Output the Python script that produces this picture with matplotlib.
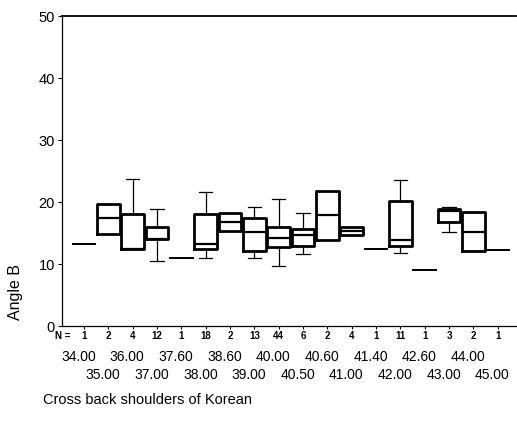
import matplotlib
matplotlib.use("Agg")
import matplotlib.pyplot as plt

plt.rcParams['font.family'] = ['Liberation Sans', 'DejaVu Sans']

categories = ["34.00", "35.00", "36.00", "37.00", "37.60", "38.00", "38.60", "39.00", "40.00",
              "40.50", "40.60", "41.00", "41.40", "42.00", "42.60", "43.00", "44.00", "45.00"]
n_counts = [1, 2, 4, 12, 1, 18, 2, 13, 44, 6, 2, 4, 1, 11, 1, 3, 2, 1]
q1 =      [13.2, 14.9, 12.4, 14.0, 11.0, 12.5, 15.3, 12.1, 12.8, 12.9, 13.9, 14.6, 12.5, 12.9, 9.1, 16.8, 12.1, 12.3]
median =  [13.2, 17.4, 12.5, 14.1, 11.0, 13.2, 16.8, 15.2, 14.2, 14.7, 17.9, 15.3, 12.5, 13.9, 9.1, 18.5, 15.2, 12.3]
q3 =      [13.2, 19.7, 18.1, 16.0, 11.0, 18.1, 18.2, 17.5, 16.0, 15.6, 21.8, 15.9, 12.5, 20.2, 9.1, 18.9, 18.4, 12.3]
whislo =  [13.2, 14.9, 12.4, 10.5, 11.0, 10.9, 15.3, 10.9, 9.7, 11.6, 13.9, 14.6, 12.5, 11.7, 9.1, 15.1, 12.1, 12.3]
whishi =  [13.2, 19.7, 23.7, 18.8, 11.0, 21.6, 18.2, 19.2, 20.5, 18.2, 21.8, 15.9, 12.5, 23.5, 9.1, 19.2, 18.4, 12.3]
yticks = [0, 10, 20, 30, 40, 50]

fig = plt.figure(figsize=(5.17, 4.28), dpi=100)
ax = fig.add_axes([0.120, 0.2383, 0.878, 0.7243])

positions = list(range(1, len(categories) + 1))
stats = []
for i in range(len(categories)):
    stats.append(dict(med=median[i], q1=q1[i], q3=q3[i], whislo=whislo[i], whishi=whishi[i], fliers=[]))

res = ax.bxp(stats, positions=positions, widths=0.94, showfliers=False, patch_artist=False,
             boxprops=dict(color='black', linewidth=2.0),
             medianprops=dict(color='black', linewidth=1.6),
             whiskerprops=dict(color='black', linewidth=0.9),
             capprops=dict(color='black', linewidth=0.9),
             capwidths=0.55, manage_ticks=False)

# hide zero-length whiskers / caps
for i in range(len(categories)):
    lo_w, hi_w = res['whiskers'][2 * i], res['whiskers'][2 * i + 1]
    lo_c, hi_c = res['caps'][2 * i], res['caps'][2 * i + 1]
    if whislo[i] >= q1[i]:
        lo_w.set_visible(False); lo_c.set_visible(False)
    if whishi[i] <= q3[i]:
        hi_w.set_visible(False); hi_c.set_visible(False)
    if n_counts[i] == 1:
        res['boxes'][i].set_linewidth(1.3)
        res['medians'][i].set_linewidth(1.3)

ax.set_xlim(0.1, 18.75)
ax.set_ylim(0, 50)
ax.set_yticks(yticks)
ax.set_yticklabels([str(t) for t in yticks], fontsize=10.5)
ax.tick_params(axis='y', direction='out', length=3, width=0.8, pad=2)
ax.set_xticks(positions)
ax.set_xticklabels([])
ax.tick_params(axis='x', direction='out', length=2.5, width=0.8)

ax.spines['right'].set_visible(False)
for s in ['left', 'bottom', 'top']:
    ax.spines[s].set_linewidth(0.9)
ax.spines['top'].set_linewidth(1.3)

# N row
ax.text(0.45, -1.6, "N =", ha='right', va='center', fontsize=7, fontweight='bold', clip_on=False)
for p, n in zip(positions, n_counts):
    ax.text(p, -1.6, str(n), ha='center', va='center', fontsize=7, fontweight='bold', clip_on=False)

# category labels in two staggered rows
for p, c in zip(positions, categories):
    y = -5.0 if (p % 2 == 1) else -7.9
    ax.text(p - 0.22, y, c, ha='center', va='center', fontsize=10, clip_on=False)

fig.text(0.030, 0.318, "Angle B", rotation=90, ha='center', va='center', fontsize=11.5)
fig.text(0.083, 0.065, "Cross back shoulders of Korean", ha='left', va='center', fontsize=10.5)

fig.savefig("out.png", dpi=100)
